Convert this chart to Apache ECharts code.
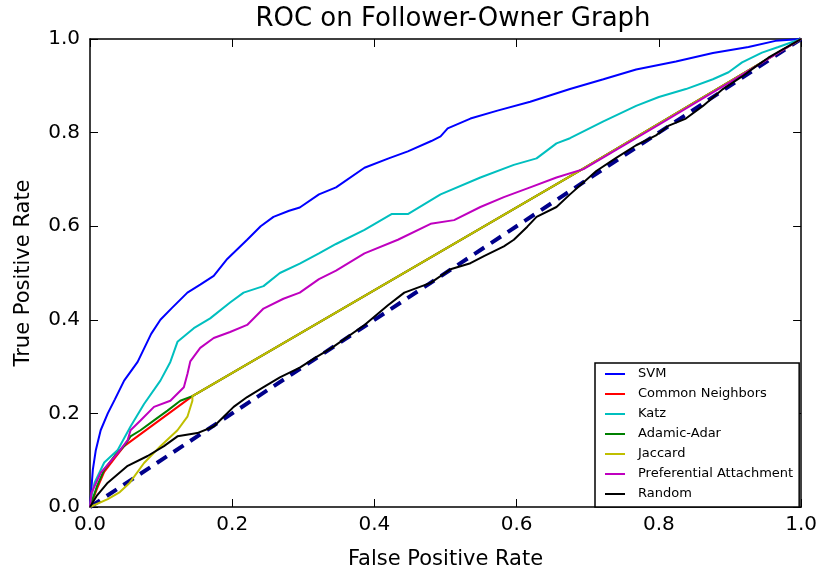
<!DOCTYPE html>
<html>
<head>
<meta charset="utf-8">
<script src="https://cdn.jsdelivr.net/npm/echarts@6/dist/echarts.min.js"></script>
<style>
  html, body { margin: 0; padding: 0; background: #fff; }
  #chart { width: 820px; height: 575px; }
</style>
</head>
<body>
<div id="chart"></div>
<script>
// ROC curves, each point is [false positive rate, true positive rate]
const svm = [[0,0],[0.004,0.08],[0.008,0.12],[0.015,0.164],[0.025,0.2],[0.035,0.23],[0.048,0.27],[0.067,0.31],[0.086,0.37],[0.099,0.4],[0.115,0.425],[0.137,0.458],[0.155,0.475],[0.174,0.494],[0.193,0.53],[0.221,0.571],[0.24,0.6],[0.258,0.62],[0.28,0.633],[0.295,0.64],[0.322,0.668],[0.346,0.683],[0.386,0.725],[0.42,0.745],[0.447,0.76],[0.48,0.782],[0.493,0.792],[0.503,0.809],[0.535,0.83],[0.573,0.847],[0.619,0.866],[0.652,0.882],[0.675,0.893],[0.722,0.914],[0.768,0.935],[0.824,0.952],[0.876,0.97],[0.926,0.983],[0.964,0.996],[1,1]];
const commonNeighbors = [[0,0],[0.01,0.04],[0.02,0.075],[0.035,0.105],[0.048,0.13],[0.144,0.237],[0.69,0.72],[1,1]];
const katz = [[0,0],[0.003,0.03],[0.0065,0.052],[0.02,0.095],[0.039,0.122],[0.057,0.172],[0.076,0.22],[0.099,0.27],[0.113,0.31],[0.123,0.353],[0.146,0.382],[0.169,0.403],[0.197,0.437],[0.216,0.458],[0.244,0.472],[0.267,0.5],[0.295,0.52],[0.322,0.542],[0.346,0.562],[0.386,0.592],[0.424,0.626],[0.447,0.626],[0.493,0.668],[0.549,0.704],[0.596,0.731],[0.628,0.745],[0.642,0.761],[0.656,0.777],[0.675,0.788],[0.722,0.824],[0.768,0.857],[0.8,0.876],[0.838,0.893],[0.876,0.914],[0.898,0.929],[0.917,0.95],[0.945,0.971],[0.968,0.983],[1,1]];
const adamicAdar = [[0,0],[0.01,0.045],[0.02,0.08],[0.035,0.11],[0.048,0.13],[0.057,0.151],[0.071,0.164],[0.09,0.185],[0.109,0.206],[0.127,0.227],[0.144,0.237],[0.69,0.72],[1,1]];
const jaccard = [[0,0],[0.025,0.017],[0.042,0.032],[0.056,0.052],[0.076,0.094],[0.099,0.13],[0.123,0.164],[0.137,0.193],[0.144,0.227],[0.144,0.237],[0.69,0.72],[1,1]];
const prefAttachment = [[0,0],[0.002,0.03],[0.015,0.073],[0.039,0.115],[0.053,0.143],[0.057,0.164],[0.071,0.185],[0.09,0.214],[0.113,0.227],[0.132,0.256],[0.137,0.284],[0.141,0.311],[0.155,0.34],[0.174,0.361],[0.197,0.374],[0.221,0.389],[0.244,0.424],[0.272,0.445],[0.295,0.458],[0.322,0.487],[0.346,0.505],[0.386,0.542],[0.433,0.571],[0.479,0.605],[0.512,0.613],[0.549,0.641],[0.582,0.662],[0.619,0.683],[0.656,0.704],[0.694,0.722],[0.8,0.817],[0.9,0.908],[0.964,0.967],[1,1]];
const randomScores = [[0,0],[0.01,0.025],[0.025,0.052],[0.053,0.088],[0.081,0.109],[0.104,0.13],[0.123,0.151],[0.151,0.158],[0.174,0.172],[0.188,0.193],[0.202,0.214],[0.221,0.235],[0.244,0.256],[0.267,0.277],[0.295,0.298],[0.317,0.319],[0.34,0.34],[0.386,0.389],[0.419,0.431],[0.442,0.458],[0.479,0.479],[0.507,0.508],[0.535,0.521],[0.554,0.536],[0.582,0.557],[0.596,0.571],[0.615,0.599],[0.628,0.62],[0.656,0.641],[0.675,0.668],[0.712,0.718],[0.74,0.746],[0.768,0.773],[0.796,0.794],[0.814,0.815],[0.838,0.83],[0.862,0.857],[0.89,0.893],[0.917,0.92],[0.936,0.941],[0.954,0.96],[0.973,0.977],[1,1]];
const chanceLine = [[0,0],[1,1]];

const seriesNames = ['SVM', 'Common Neighbors', 'Katz', 'Adamic-Adar', 'Jaccard', 'Preferential Attachment', 'Random'];
const seriesData = [svm, commonNeighbors, katz, adamicAdar, jaccard, prefAttachment, randomScores];
const seriesColors = ['#0000ff', '#ff0000', '#00bfbf', '#008000', '#bfbf00', '#bf00bf', '#000000'];

const FONT = 'DejaVu Sans';

const chart = echarts.init(document.getElementById('chart'), null, { renderer: 'canvas' });

const curveSeries = seriesNames.map((name, i) => ({
  name: name,
  type: 'line',
  data: seriesData[i],
  showSymbol: false,
  symbol: 'none',
  lineStyle: { color: seriesColors[i], width: 2 },
  itemStyle: { color: seriesColors[i] },
  z: 3 + i
}));

const baseAxis = {
  type: 'value',
  min: 0,
  max: 1,
  interval: 0.2,
  splitLine: { show: false },
  axisLine: { show: true, onZero: false, lineStyle: { color: '#000', width: 1.5 } },
  axisTick: { show: true, inside: true, length: 8, lineStyle: { color: '#000', width: 1 } }
};

chart.setOption({
  animation: false,
  backgroundColor: '#fff',
  title: {
    text: 'ROC on Follower-Owner Graph',
    left: 448,
    top: 1,
    textAlign: 'center',
    textStyle: { fontFamily: FONT, fontSize: 26, fontWeight: 'normal', color: '#000' }
  },
  grid: { left: 90, right: 14, top: 39, bottom: 60, containLabel: false },
  legend: {
    data: seriesNames,
    orient: 'vertical',
    left: 595,
    top: 363,
    icon: 'rect',
    itemWidth: 20,
    itemHeight: 2,
    itemGap: 6,
    padding: [4, 6, 6, 10],
    borderColor: '#000',
    borderWidth: 1.5,
    backgroundColor: '#fff',
    textStyle: { fontFamily: FONT, fontSize: 13, color: '#000', lineHeight: 14, padding: [0, 0, 0, 8] }
  },
  xAxis: [
    Object.assign({}, baseAxis, {
      position: 'bottom',
      name: 'False Positive Rate',
      nameLocation: 'middle',
      nameGap: 42,
      nameTextStyle: { fontFamily: FONT, fontSize: 21, color: '#000' },
      axisLabel: {
        margin: 8,
        fontFamily: FONT, fontSize: 20, color: '#000',
        formatter: v => v.toFixed(1)
      }
    }),
    Object.assign({}, baseAxis, { position: 'top', axisLabel: { show: false } })
  ],
  yAxis: [
    Object.assign({}, baseAxis, {
      position: 'left',
      name: 'True Positive Rate',
      nameLocation: 'middle',
      nameGap: 56,
      nameTextStyle: { fontFamily: FONT, fontSize: 21, color: '#000' },
      axisLabel: {
        margin: 10,
        fontFamily: FONT, fontSize: 20, color: '#000',
        formatter: v => v.toFixed(1)
      }
    }),
    Object.assign({}, baseAxis, { position: 'right', axisLabel: { show: false } })
  ],
  series: [{
    name: 'chance',
    type: 'line',
    data: chanceLine,
    showSymbol: false,
    symbol: 'none',
    lineStyle: { color: '#00008b', width: 4, type: [12, 8] },
    z: 2
  }].concat(curveSeries)
});
</script>
</body>
</html>
